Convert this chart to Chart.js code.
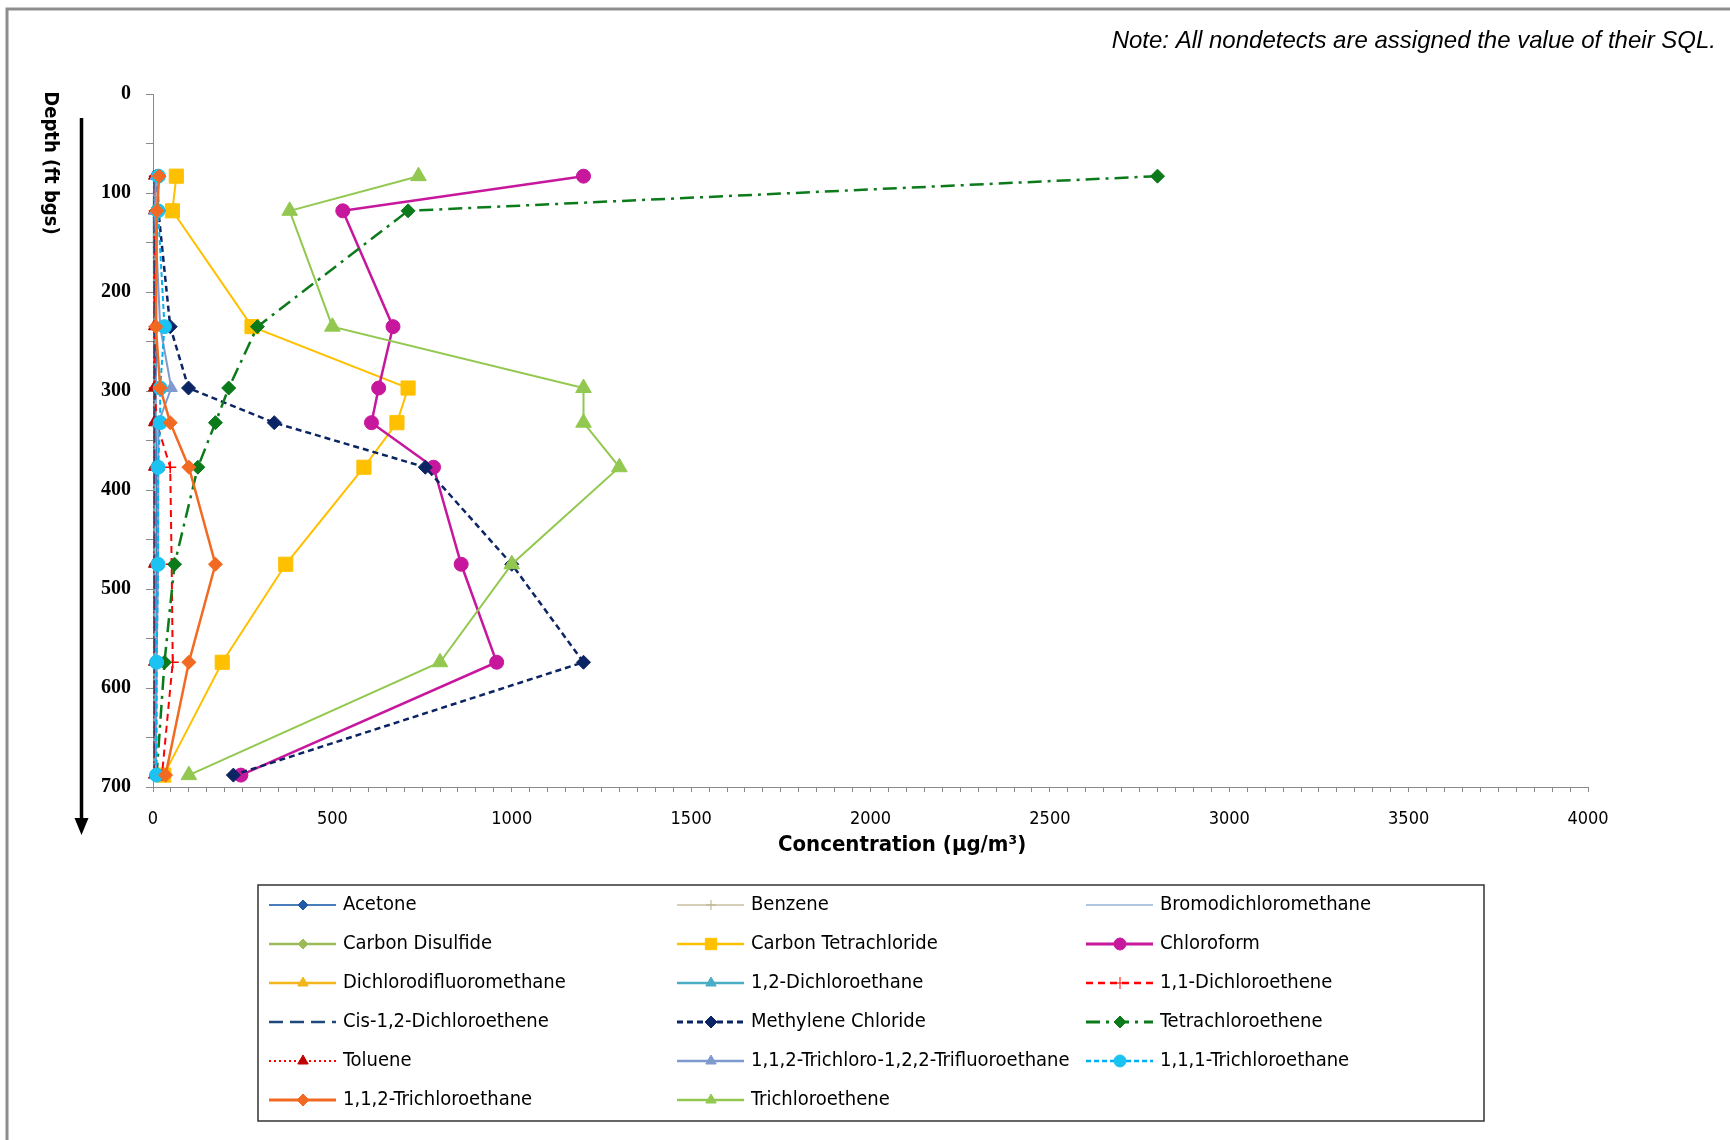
<!DOCTYPE html>
<html>
<head>
<meta charset="utf-8">
<script src="https://cdn.jsdelivr.net/npm/chart.js@4.4.1/dist/chart.umd.min.js"></script>
<style>
  html, body { margin: 0; padding: 0; background: #fff; }
  #wrap { position: relative; width: 1730px; height: 1140px; }
</style>
</head>
<body>
<div id="wrap"><canvas id="profile" width="1730" height="1140"></canvas></div>
<script>
// Soil vapor profile: concentration of each compound against sample depth

const depths = [83, 118, 235, 297, 332, 377, 475, 574, 688];

const acetone              = [8, 6, 10, 8, 8, 10, 10, 10, 8];
const benzene              = [3, 3, 3, 3, 3, 3, 3, 3, 3];
const bromodichloromethane = [3, 3, 3, 3, 3, 3, 3, 3, 3];
const carbonDisulfide      = [5, 4, 5, 5, 5, 5, 5, 5, 5];
const carbonTetrachloride  = [65, 54, 276, 711, 680, 588, 370, 193, 30];
const chloroform           = [1200, 529, 669, 629, 609, 782, 859, 958, 245];
const dichlorodifluoro     = [4, 4, 4, 4, 4, 4, 4, 4, 4];
const dichloroethane12     = [3, 2, 3, 3, 3, 3, 3, 3, 3];
const dichloroethene11     = [5, 5, 5, 5, 10, 48, 52, 55, 25];
const cisDichloroethene    = [4, 4, 4, 4, 4, 4, 4, 4, 4];
const methyleneChloride    = [12, 15, 48, 99, 338, 759, 1000, 1200, 224];
const tetrachloroethene    = [2800, 711, 291, 211, 174, 125, 60, 32, 10];
const toluene              = [2, 2, 2, 2, 2, 2, 2, 2, 2];
const trichlorotrifluoro   = [8, 5, 20, 51, 15, 15, 14, 10, 8];
const trichloroethane111   = [15, 14, 32, 20, 20, 14, 14, 10, 10];
const trichloroethane112   = [17, 11, 8, 20, 48, 100, 174, 100, 35];
const trichloroethene      = [740, 381, 500, 1200, 1200, 1300, 1000, 800, 100];

const xTickStep = 50, xLabelStep = 500, xMax = 4000;
const yTickStep = 50, yLabelStep = 100, yMax = 700;

// line / marker look of each compound (legend order, row by row)
const series = [
  { label: 'Acetone', values: acetone, color: '#4A7EBB', marker: '#1F5BA6', style: 'rectRot', r: 5, w: 1.5 },
  { label: 'Benzene', values: benzene, color: '#C9C1A0', marker: '#B8AF88', style: 'cross', r: 5, w: 1 },
  { label: 'Bromodichloromethane', values: bromodichloromethane, color: '#95B3D7', style: null, r: 0, w: 1 },
  { label: 'Carbon Disulfide', values: carbonDisulfide, color: '#9BBB59', style: 'rectRot', r: 5, w: 2 },
  { label: 'Carbon Tetrachloride', values: carbonTetrachloride, color: '#FFC000', style: 'rect', r: 10, w: 2 },
  { label: 'Chloroform', values: chloroform, color: '#C7179D', style: 'circle', r: 7, w: 2.5 },
  { label: 'Dichlorodifluoromethane', values: dichlorodifluoro, color: '#F2B51C', style: 'triangle', r: 6, w: 2 },
  { label: '1,2-Dichloroethane', values: dichloroethane12, color: '#4BACC6', style: 'triangle', r: 6, w: 2 },
  { label: '1,1-Dichloroethene', values: dichloroethene11, color: '#FF0000', style: 'cross', r: 6, w: 2, dash: [7, 5] },
  { label: 'Cis-1,2-Dichloroethene', values: cisDichloroethene, color: '#1F497D', style: null, r: 0, w: 2, dash: [14, 7] },
  { label: 'Methylene Chloride', values: methyleneChloride, color: '#0B2463', style: 'rectRot', r: 7, w: 2.5, dash: [6, 4] },
  { label: 'Tetrachloroethene', values: tetrachloroethene, color: '#0A7A1A', style: 'rectRot', r: 7, w: 2.5, dash: [14, 6, 3, 6] },
  { label: 'Toluene', values: toluene, color: '#FF0000', marker: '#C00000', style: 'triangle', r: 6, w: 1.5, dash: [2, 3] },
  { label: '1,1,2-Trichloro-1,2,2-Trifluoroethane', values: trichlorotrifluoro, color: '#7F9ACF', style: 'triangle', r: 7, w: 2 },
  { label: '1,1,1-Trichloroethane', values: trichloroethane111, color: '#00B0F0', marker: '#1BC3F2', style: 'circle', r: 7, w: 2, dash: [5, 3] },
  { label: '1,1,2-Trichloroethane', values: trichloroethane112, color: '#F26A21', style: 'rectRot', r: 7, w: 2.5 },
  { label: 'Trichloroethene', values: trichloroethene, color: '#92C84F', style: 'triangle', r: 9, w: 2 }
];

const LEGEND_FONT = '20px "DejaVu Sans Condensed", "DejaVu Sans", sans-serif';

const datasets = series.map(function (s, i) {
  return {
    label: s.label,
    data: depths.map(function (d, k) { return { x: s.values[k], y: d }; }),
    showLine: true,
    borderColor: s.color,
    borderWidth: s.w,
    borderDash: s.dash || [],
    backgroundColor: s.marker || s.color,
    pointStyle: s.style || 'circle',
    pointRadius: s.r,
    pointBorderWidth: s.style === 'cross' ? 1.5 : 1,
    pointBorderColor: s.marker || s.color,
    pointBackgroundColor: s.marker || s.color,
    clip: false,
    order: series.length - i   // later compounds sit on top
  };
});

// frame, note, axis titles, depth arrow and the three-column legend
const decorations = {
  id: 'decorations',
  beforeDraw: function (chart) {
    const ctx = chart.ctx;
    ctx.save();
    ctx.fillStyle = '#fff';
    ctx.fillRect(0, 0, chart.width, chart.height);
    ctx.strokeStyle = '#8E8E8E';
    ctx.lineWidth = 3;
    ctx.beginPath();
    ctx.moveTo(7, chart.height);
    ctx.lineTo(7, 9);
    ctx.lineTo(chart.width, 9);
    ctx.stroke();
    ctx.restore();
  },
  afterDraw: function (chart) {
    const ctx = chart.ctx;
    const area = chart.chartArea;
    ctx.save();

    // note
    ctx.fillStyle = '#000';
    ctx.font = 'italic 24px "Liberation Sans", Arial, sans-serif';
    ctx.textAlign = 'right';
    ctx.textBaseline = 'middle';
    ctx.fillText('Note: All nondetects are assigned the value of their SQL.', 1716, 41);

    // y title, reading downward
    ctx.save();
    ctx.translate(50, 163);
    ctx.rotate(Math.PI / 2);
    ctx.font = 'bold 20px "DejaVu Sans Condensed", "DejaVu Sans", sans-serif';
    ctx.textAlign = 'center';
    ctx.textBaseline = 'middle';
    ctx.fillText('Depth (ft bgs)', 0, 0);
    ctx.restore();

    // depth arrow
    ctx.strokeStyle = '#000';
    ctx.fillStyle = '#000';
    ctx.lineWidth = 3.5;
    ctx.beginPath();
    ctx.moveTo(81.5, 118);
    ctx.lineTo(81.5, 822);
    ctx.stroke();
    ctx.beginPath();
    ctx.moveTo(74.5, 818);
    ctx.lineTo(88.5, 818);
    ctx.lineTo(81.5, 835);
    ctx.closePath();
    ctx.fill();

    // x title
    ctx.font = 'bold 22px "DejaVu Sans Condensed", "DejaVu Sans", sans-serif';
    ctx.textAlign = 'center';
    ctx.textBaseline = 'middle';
    ctx.fillText('Concentration (\u00B5g/m\u00B3)', area.left + (area.right - area.left) * 0.522, 845);

    // legend box
    const box = { x: 258, y: 885, w: 1226, h: 236 };
    ctx.strokeStyle = '#333';
    ctx.lineWidth = 1.5;
    ctx.strokeRect(box.x, box.y, box.w, box.h);

    const colX = [269, 677, 1086];
    ctx.font = LEGEND_FONT;
    ctx.textAlign = 'left';
    ctx.textBaseline = 'middle';
    series.forEach(function (s, i) {
      const cx = colX[i % 3];
      const cy = 905 + Math.floor(i / 3) * 39;
      ctx.save();
      ctx.strokeStyle = s.color;
      ctx.lineWidth = Math.max(1.2, s.w + 0.3);
      ctx.setLineDash(s.dash || []);
      ctx.beginPath();
      ctx.moveTo(cx, cy);
      ctx.lineTo(cx + 67, cy);
      ctx.stroke();
      ctx.setLineDash([]);
      if (s.style) {
        ctx.fillStyle = s.marker || s.color;
        ctx.strokeStyle = s.marker || s.color;
        ctx.lineWidth = 1;
        Chart.helpers.drawPoint(ctx, {
          pointStyle: s.style, rotation: 0,
          radius: Math.min(s.r, s.style === 'rect' ? 8 : 6),
          borderWidth: 1
        }, cx + 34, cy);
      }
      ctx.restore();
      ctx.fillStyle = '#000';
      ctx.fillText(s.label, cx + 74, cy);
    });

    ctx.restore();
  }
};

new Chart(document.getElementById('profile'), {
  type: 'scatter',
  data: { datasets: datasets },
  options: {
    responsive: false,
    animation: false,
    devicePixelRatio: 1,
    events: [],
    layout: { padding: { left: 0, top: 94, right: 142, bottom: 293 } },
    scales: {
      x: {
        type: 'linear',
        position: 'bottom',
        min: 0, max: xMax,
        afterFit: function (scale) { scale.height = 60; },
        border: { color: '#8A8A8A', width: 1 },
        grid: { drawOnChartArea: false, drawTicks: true, tickLength: 5, color: '#8A8A8A' },
        ticks: {
          stepSize: xTickStep,
          autoSkip: false,
          maxRotation: 0,
          padding: 17,
          color: '#000',
          font: { family: '"DejaVu Sans Condensed", "DejaVu Sans", sans-serif', size: 18 },
          callback: function (v) { return v % xLabelStep === 0 ? String(v) : ''; }
        }
      },
      y: {
        type: 'linear',
        position: 'left',
        reverse: true,
        min: 0, max: yMax,
        afterFit: function (scale) { scale.width = 153; },
        border: { color: '#8A8A8A', width: 1 },
        grid: { drawOnChartArea: false, drawTicks: true, tickLength: 7, color: '#8A8A8A' },
        ticks: {
          stepSize: yTickStep,
          autoSkip: false,
          padding: 15,
          color: '#000',
          font: { family: '"Liberation Serif", "DejaVu Serif", serif', size: 20, weight: 'bold' },
          callback: function (v) { return v % yLabelStep === 0 ? String(v) : ''; }
        }
      }
    },
    plugins: {
      legend: { display: false },
      tooltip: { enabled: false }
    }
  },
  plugins: [decorations]
});
</script>
</body>
</html>
